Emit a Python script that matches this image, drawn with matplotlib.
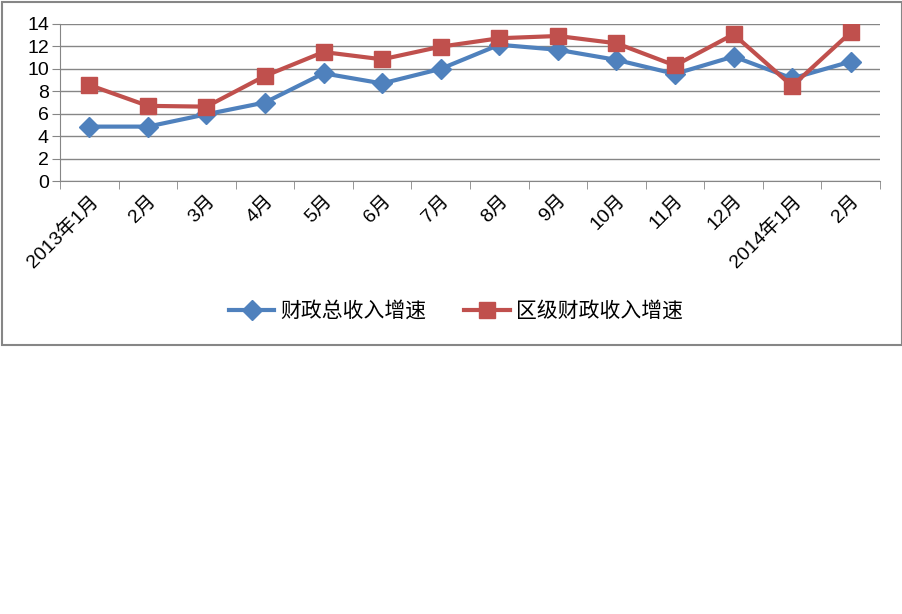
import matplotlib
matplotlib.use('Agg')
import matplotlib.pyplot as plt
from matplotlib.patches import Rectangle
import numpy as np

plt.rcParams['font.family'] = ['Liberation Sans', 'Noto Sans CJK SC', 'DejaVu Sans']

months = ['2013年1月', '2月', '3月', '4月', '5月', '6月', '7月', '8月', '9月',
          '10月', '11月', '12月', '2014年1月', '2月']
total_growth = [4.85, 4.85, 5.95, 7.0, 9.6, 8.7, 10.0, 12.15, 11.7, 10.8, 9.55, 11.1, 9.15, 10.65]
district_growth = [8.56, 6.7, 6.63, 9.37, 11.5, 10.85, 11.98, 12.73, 12.93, 12.28, 10.3, 13.08, 8.47, 13.26]
yticks = [0, 2, 4, 6, 8, 10, 12, 14]

W, H = 903, 614
fig = plt.figure(figsize=(W / 100, H / 100), dpi=100)
ax = fig.add_axes([60 / W, 1 - 181 / H, (880 - 60) / W, (181 - 24) / H])

x = np.arange(len(months))
gray = '#868686'
ax.plot(x, total_growth, color='#4F81BD', lw=3, marker='D', ms=10,
        label='财政总收入增速', zorder=3)
ax.plot(x, district_growth, color='#C0504D', lw=3, marker='s', ms=12,
        label='区级财政收入增速', zorder=3)

ax.set_xlim(-0.5, len(months) - 0.5)
ax.set_ylim(0, 14)
ax.set_yticks(yticks)
ax.grid(axis='y', color=gray, lw=1)
ax.set_axisbelow(True)

ax.set_xticks(x)
ax.set_xticklabels(months, rotation=45, ha='right', rotation_mode='anchor', fontsize=14)
ax.set_xticks(np.arange(-0.5, len(months)), minor=True)
ax.tick_params(axis='x', which='major', length=0, pad=8)
ax.tick_params(axis='x', which='minor', length=6, color=gray)
ax.tick_params(axis='y', length=6, color=gray, labelsize=14, pad=2)

for s in ['top', 'right']:
    ax.spines[s].set_visible(False)
for s in ['left', 'bottom']:
    ax.spines[s].set_color(gray)

fig.legend(loc='center', bbox_to_anchor=(456 / W, 1 - 311 / H), ncol=2,
           frameon=False, fontsize=15, handlelength=2.2, handletextpad=0.3,
           columnspacing=1.8)

fig.patches.append(Rectangle((2 / W, 1 - 345 / H), (900 / W), 343 / H,
                             transform=fig.transFigure, fill=False,
                             edgecolor=gray, lw=1.5))

fig.savefig('out.png', dpi=100)
